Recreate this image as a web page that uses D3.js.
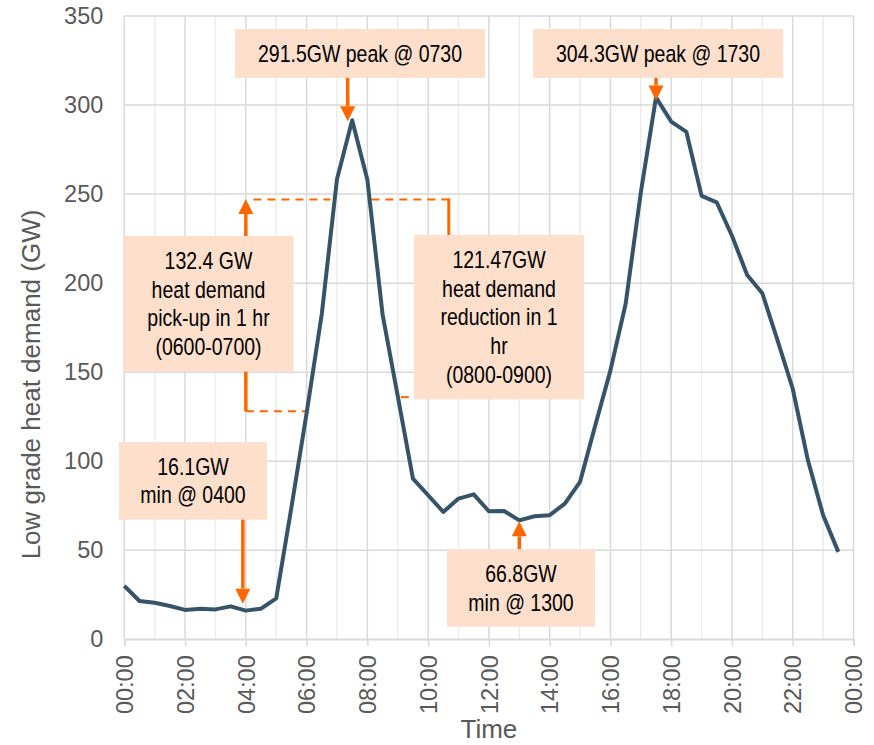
<!DOCTYPE html>
<html lang="en">
<head>
    <meta charset="UTF-8">
    <title>Low grade heat demand</title>
    <script src="https://d3js.org/d3.v7.min.js"></script>
    <style>
        body { margin: 0; background: #fff; }
        svg text { font-family: "Liberation Sans", Arial, sans-serif; }
        .note text { font-family: "Liberation Sans Narrow", "Arial Narrow", "Liberation Sans", sans-serif; }
    </style>
</head>
<body>
<svg id="chart" width="874" height="745"></svg>
<script>
    // half-hourly readings, 00:00 .. 23:30
    const times = ["00:00", "00:30", "01:00", "01:30", "02:00", "02:30", "03:00", "03:30",
        "04:00", "04:30", "05:00", "05:30", "06:00", "06:30", "07:00", "07:30",
        "08:00", "08:30", "09:00", "09:30", "10:00", "10:30", "11:00", "11:30",
        "12:00", "12:30", "13:00", "13:30", "14:00", "14:30", "15:00", "15:30",
        "16:00", "16:30", "17:00", "17:30", "18:00", "18:30", "19:00", "19:30",
        "20:00", "20:30", "21:00", "21:30", "22:00", "22:30", "23:00", "23:30"];
    const demand = [30, 21.5, 20.5, 18.7, 16.5, 17.2, 16.8, 18.5,
        16.1, 17.2, 23, 74, 127, 182.7, 258.4, 291.5,
        258, 182.5, 136.5, 90.2, 80.9, 71.5, 79, 81.4,
        71.9, 72, 66.8, 69.1, 69.7, 76.2, 88.4, 120,
        151, 188.3, 250.9, 304.3, 290.7, 284.9, 249, 245.3,
        226.6, 204.6, 194.3, 167.8, 140.7, 100.5, 69.7, 49.1];
    const yTicks = [0, 50, 100, 150, 200, 250, 300, 350];
    const xTicks = [0, 2, 4, 6, 8, 10, 12, 14, 16, 18, 20, 22, 24];
    const xTickLabels = ["00:00", "02:00", "04:00", "06:00", "08:00", "10:00", "12:00",
        "14:00", "16:00", "18:00", "20:00", "22:00", "00:00"];

    const toHours = s => { const [h, m] = s.split(":"); return +h + m / 60; };
    const points = times.map((t, i) => ({x: toHours(t), y: demand[i]}));

    const svg = d3.select("#chart");
    const plotLeft = 124.3, plotRight = 853.5, plotTop = 16, plotBottom = 639.3;

    const x = d3.scaleLinear().domain([0, 24]).range([plotLeft, plotRight]);
    const y = d3.scaleLinear().domain([0, 350]).range([plotBottom, plotTop]);

    // minor (odd hour) gridlines
    svg.append("g").selectAll("line")
        .data(d3.range(1, 24, 2))
        .join("line")
        .attr("x1", d => x(d)).attr("x2", d => x(d))
        .attr("y1", plotTop).attr("y2", plotBottom)
        .attr("stroke", "#ececec").attr("stroke-width", 1.5);

    // major gridlines
    svg.append("g").selectAll("line")
        .data(xTicks)
        .join("line")
        .attr("x1", d => x(d)).attr("x2", d => x(d))
        .attr("y1", plotTop).attr("y2", plotBottom)
        .attr("stroke", "#d9d9d9").attr("stroke-width", 1.5);
    svg.append("g").selectAll("line")
        .data(yTicks)
        .join("line")
        .attr("x1", plotLeft).attr("x2", plotRight)
        .attr("y1", d => y(d)).attr("y2", d => y(d))
        .attr("stroke", "#d9d9d9").attr("stroke-width", 1.5);

    // y axis labels
    const yAxis = svg.append("g")
        .attr("transform", `translate(${plotLeft},0)`)
        .call(d3.axisLeft(y).tickValues(yTicks).tickSize(0).tickPadding(21));
    yAxis.select(".domain").remove();
    yAxis.selectAll("text").attr("fill", "#595959").attr("font-size", 23.5)
        .attr("font-family", "Liberation Sans, Arial, sans-serif");

    // x axis, rotated labels
    const xAxis = svg.append("g")
        .attr("transform", `translate(0,${plotBottom})`)
        .call(d3.axisBottom(x).tickValues(xTicks).tickFormat((d, i) => xTickLabels[i]).tickSize(7));
    xAxis.select(".domain").attr("stroke", "#d9d9d9").attr("stroke-width", 1.5);
    xAxis.selectAll(".tick line").attr("stroke", "#d9d9d9").attr("stroke-width", 1.5);
    xAxis.selectAll("text")
        .attr("fill", "#595959").attr("font-size", 23.5)
        .attr("font-family", "Liberation Sans, Arial, sans-serif")
        .attr("text-anchor", "end")
        .attr("transform", "rotate(-90)")
        .attr("x", -16).attr("y", 0).attr("dy", "0.35em");

    // axis titles
    svg.append("text")
        .attr("x", x(12)).attr("y", 738)
        .attr("text-anchor", "middle")
        .attr("font-size", 26).attr("fill", "#595959")
        .text("Time");
    svg.append("text")
        .attr("transform", `translate(40,${(207 + 562) / 2}) rotate(-90)`)
        .attr("text-anchor", "middle")
        .attr("font-size", 26).attr("fill", "#595959")
        .text("Low grade heat demand (GW)");

    const orange = "#ff6600";
    const notes = svg.append("g").attr("class", "note");

    // dashed guides for the 1-hour swings
    const dashed = [
        [[x(4), y(128)], [x(5.95), y(128)]],
        [[x(4.25), y(247)], [x(6.78), y(247)]],
        [[x(8.13), y(247)], [x(10.68), y(247)]],
        [[x(9.1), y(136)], [x(9.5), y(136)]]
    ];
    dashed.forEach(seg => notes.append("line")
        .attr("x1", seg[0][0]).attr("y1", seg[0][1])
        .attr("x2", seg[1][0]).attr("y2", seg[1][1])
        .attr("stroke", orange).attr("stroke-width", 2).attr("stroke-dasharray", "8,6"));
    notes.append("line")
        .attr("x1", x(10.68)).attr("x2", x(10.68))
        .attr("y1", y(247) - 1).attr("y2", 236)
        .attr("stroke", orange).attr("stroke-width", 3);

    // demand curve
    svg.append("path")
        .datum(points)
        .attr("fill", "none")
        .attr("stroke", "#35546a")
        .attr("stroke-width", 4)
        .attr("stroke-linejoin", "round")
        .attr("d", d3.line().x(d => x(d.x)).y(d => y(d.y)));

    const marks = svg.append("g").attr("class", "note");

    // arrows: from (x, y0) to tip (x, y1)
    function arrow(ax, y0, y1) {
        const dir = y1 > y0 ? 1 : -1;
        const head = 15;
        marks.append("line")
            .attr("x1", ax).attr("x2", ax)
            .attr("y1", y0).attr("y2", y1 - dir * head)
            .attr("stroke", orange).attr("stroke-width", 3.5);
        marks.append("path")
            .attr("d", `M${ax - 7.5},${y1 - dir * head} L${ax + 7.5},${y1 - dir * head} L${ax},${y1} Z`)
            .attr("fill", orange);
    }
    arrow(x(7.5) - 4.5, 78, y(291.5) + 1);
    arrow(x(17.5), 78, y(304.3) + 3);
    arrow(x(4), y(128), 199);
    arrow(x(4) - 3, 519, y(16.1) - 7);
    arrow(x(13), 549, y(66.8) + 1);

    // callout boxes
    const boxes = [
        {x: 235, y: 29, w: 250, h: 49, lines: ["291.5GW peak @ 0730"]},
        {x: 533, y: 29, w: 250, h: 49, lines: ["304.3GW peak @ 1730"]},
        {x: 123.3, y: 236, w: 170.4, h: 135.7, lines: ["132.4 GW", "heat demand", "pick-up in 1 hr", "(0600-0700)"]},
        {x: 414, y: 235, w: 170, h: 164.3, lines: ["121.47GW", "heat demand", "reduction in 1", "hr", "(0800-0900)"]},
        {x: 119, y: 442, w: 148, h: 77.7, lines: ["16.1GW", "min @ 0400"]},
        {x: 447, y: 549.3, w: 148, h: 77.4, lines: ["66.8GW", "min @ 1300"]}
    ];
    const lh = 28.6, fs = 23.5, narrow = 0.83;
    boxes.forEach(b => {
        marks.append("rect")
            .attr("x", b.x).attr("y", b.y).attr("width", b.w).attr("height", b.h)
            .attr("fill", "#fddfcc");
        const first = b.y + b.h / 2 - (b.lines.length - 1) * lh / 2 + fs * 0.35;
        // no narrow face installed: squeeze the regular one horizontally
        b.lines.forEach((t, i) => marks.append("text")
            .attr("transform", `translate(${b.x + b.w / 2},${first + i * lh}) scale(${narrow},1)`)
            .attr("text-anchor", "middle")
            .attr("font-size", fs).attr("fill", "#000")
            .text(t));
    });
</script>
</body>
</html>
